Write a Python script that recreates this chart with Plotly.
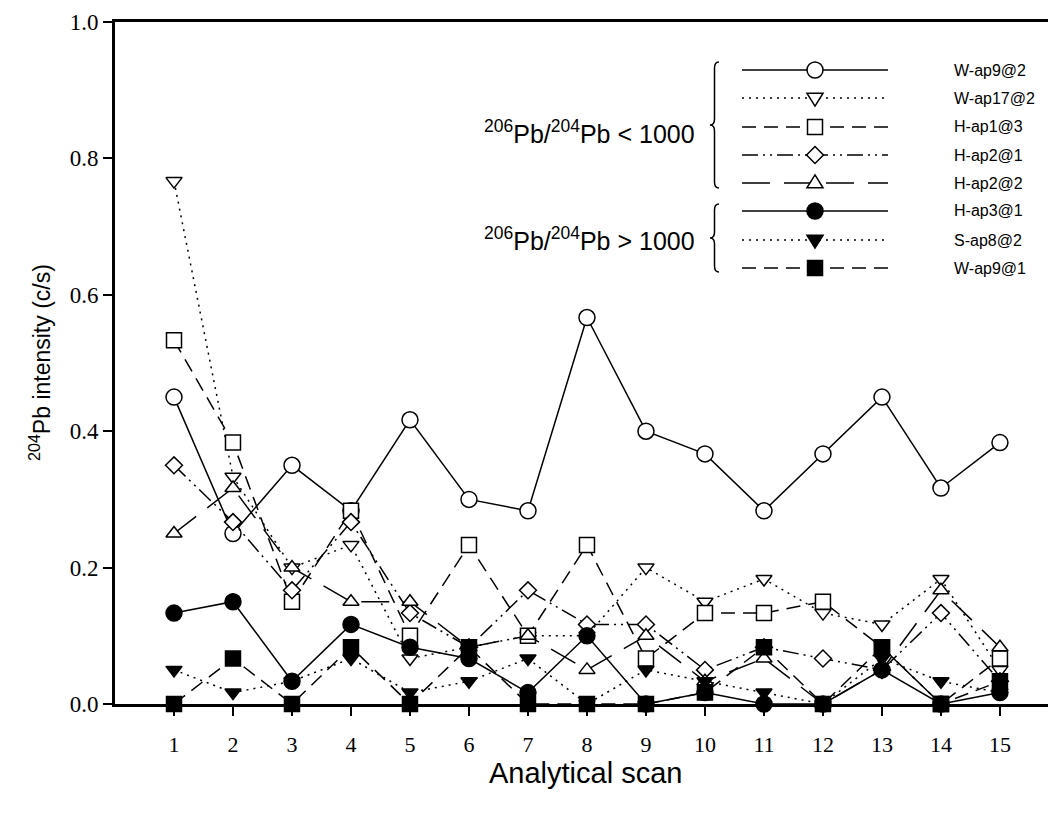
import plotly.graph_objects as go

# ---------------- data ----------------
scans = list(range(1, 16))

series_names = ["W-ap9@2", "W-ap17@2", "H-ap1@3", "H-ap2@1", "H-ap2@2",
                "H-ap3@1", "S-ap8@2", "W-ap9@1"]

w_ap9_2 = [0.45, 0.25, 0.35, 0.2833, 0.4167, 0.30, 0.2833, 0.5667, 0.40, 0.3667,
           0.2833, 0.3667, 0.45, 0.3167, 0.3833]
w_ap17_2 = [0.7667, 0.3333, 0.20, 0.2333, 0.0667, 0.0833, 0.10, 0.10, 0.20, 0.15,
            0.1833, 0.1333, 0.1167, 0.1833, 0.05]
h_ap1_3 = [0.5333, 0.3833, 0.15, 0.2833, 0.10, 0.2333, 0.10, 0.2333, 0.0667, 0.1333,
           0.1333, 0.15, 0.0833, 0.0, 0.0667]
h_ap2_1 = [0.35, 0.2667, 0.1667, 0.2667, 0.1333, 0.0833, 0.1667, 0.1167, 0.1167, 0.05,
           0.0833, 0.0667, 0.05, 0.1333, 0.0333]
h_ap2_2 = [0.25, 0.3167, 0.20, 0.15, 0.15, 0.0833, 0.10, 0.05, 0.10, 0.0333,
           0.0667, 0.0, 0.05, 0.1667, 0.0833]
h_ap3_1 = [0.1333, 0.15, 0.0333, 0.1167, 0.0833, 0.0667, 0.0167, 0.10, 0.0, 0.0167,
           0.0, 0.0, 0.05, 0.0, 0.0167]
s_ap8_2 = [0.05, 0.0167, 0.0333, 0.0667, 0.0167, 0.0333, 0.0667, 0.0, 0.05, 0.0333,
           0.0167, 0.0, 0.0667, 0.0333, 0.0167]
w_ap9_1 = [0.0, 0.0667, 0.0, 0.0833, 0.0, 0.0833, 0.0, 0.0, 0.0, 0.0167,
           0.0833, 0.0, 0.0833, 0.0, 0.0333]

series_values = [w_ap9_2, w_ap17_2, h_ap1_3, h_ap2_1, h_ap2_2, h_ap3_1, s_ap8_2, w_ap9_1]

y_tick_vals = [0.0, 0.2, 0.4, 0.6, 0.8, 1.0]
y_tick_text = ["0.0", "0.2", "0.4", "0.6", "0.8", "1.0"]

group_labels = ["<sup>206</sup>Pb/<sup>204</sup>Pb &lt; 1000",
                "<sup>206</sup>Pb/<sup>204</sup>Pb &gt; 1000"]

# ---------------- styles ----------------
styles = [
    dict(symbol="circle", fill="white", dash="solid", size=16),
    dict(symbol="triangle-down", fill="white", dash="2px,5px", size=14),
    dict(symbol="square", fill="white", dash="14px,8px", size=15),
    dict(symbol="diamond", fill="white", dash="16px,5px,2px,5px,2px,5px", size=13),
    dict(symbol="triangle-up", fill="white", dash="28px,14px", size=14),
    dict(symbol="circle", fill="black", dash="solid", size=16),
    dict(symbol="triangle-down", fill="black", dash="2px,5px", size=14),
    dict(symbol="square", fill="black", dash="14px,8px", size=15),
]

# page body has an 8px margin; compensate so the plot lands where the reference has it
W, H = 1048, 811
L, R, T, B = 107, 0, 14, 115
PW, PH = W - L - R, H - T - B
SANS = "Liberation Sans, Arial"
SERIF = "Liberation Serif, Times New Roman"

fig = go.Figure()
for name, vals, st in zip(series_names, series_values, styles):
    fig.add_trace(go.Scatter(
        x=scans, y=vals, name=name, mode="lines+markers",
        line=dict(color="black", width=1.5, dash=st["dash"]),
        marker=dict(symbol=st["symbol"], size=st["size"], color=st["fill"],
                    line=dict(color="black", width=1.5)),
        cliponaxis=False, showlegend=False,
    ))


# reference screen pixel -> paper coordinates
def px(x):
    return (x - 115) / PW


def py(y):
    return (704 - y) / PH


shapes = []
annotations = []

# ---------- manual legend ----------
row_y = [70, 98, 127, 155, 183, 211, 240, 268]
line_x0, line_x1, mark_x, text_x = 742, 888, 815, 952


def marker_path(sym, cx, cy, s):
    r = s / 2.0
    if sym == "square":
        pts = [(cx - r, cy - r), (cx + r, cy - r), (cx + r, cy + r), (cx - r, cy + r)]
    elif sym == "diamond":
        rd = r * 1.3
        pts = [(cx, cy - rd), (cx + rd, cy), (cx, cy + rd), (cx - rd, cy)]
    elif sym == "triangle-up":
        rt = r * 1.15
        pts = [(cx, cy - rt), (cx + rt, cy + rt * 0.6), (cx - rt, cy + rt * 0.6)]
    else:  # triangle-down
        rt = r * 1.15
        pts = [(cx, cy + rt), (cx + rt, cy - rt * 0.6), (cx - rt, cy - rt * 0.6)]
    return "M " + " L ".join(f"{px(a):.5f},{py(b):.5f}" for a, b in pts) + " Z"


for name, st, yy in zip(series_names, styles, row_y):
    shapes.append(dict(type="line", xref="paper", yref="paper",
                       x0=px(line_x0), x1=px(line_x1), y0=py(yy), y1=py(yy),
                       line=dict(color="black", width=1.5, dash=st["dash"])))
    if st["symbol"] == "circle":
        r = st["size"] / 2.0
        shapes.append(dict(type="circle", xref="paper", yref="paper",
                           x0=px(mark_x - r), x1=px(mark_x + r),
                           y0=py(yy + r), y1=py(yy - r),
                           fillcolor=st["fill"], line=dict(color="black", width=1.5)))
    else:
        shapes.append(dict(type="path", xref="paper", yref="paper",
                           path=marker_path(st["symbol"], mark_x, yy, st["size"]),
                           fillcolor=st["fill"], line=dict(color="black", width=1.5)))
    annotations.append(dict(x=px(text_x), y=py(yy), xref="paper", yref="paper",
                            text=name, showarrow=False, xanchor="left", yanchor="middle",
                            font=dict(family=SANS, size=16, color="black")))


def brace(x, y0, y1, w=9):
    ym = (y0 + y1) / 2.0
    c = 6
    xm = x + w / 2.0
    pts = (f"M {px(x + w):.5f},{py(y0):.5f} "
           f"Q {px(xm):.5f},{py(y0):.5f} {px(xm):.5f},{py(y0 + c):.5f} "
           f"L {px(xm):.5f},{py(ym - c):.5f} "
           f"Q {px(xm):.5f},{py(ym):.5f} {px(x):.5f},{py(ym):.5f} "
           f"Q {px(xm):.5f},{py(ym):.5f} {px(xm):.5f},{py(ym + c):.5f} "
           f"L {px(xm):.5f},{py(y1 - c):.5f} "
           f"Q {px(xm):.5f},{py(y1):.5f} {px(x + w):.5f},{py(y1):.5f}")
    return dict(type="path", xref="paper", yref="paper", path=pts,
                line=dict(color="black", width=1.5))


shapes.append(brace(710, 62, 188))
shapes.append(brace(710, 204, 272))

annotations.append(dict(x=px(697), y=py(132), xref="paper", yref="paper",
                        text=group_labels[0], showarrow=False, xanchor="right",
                        yanchor="middle", font=dict(family=SANS, size=25, color="black")))
annotations.append(dict(x=px(697), y=py(239), xref="paper", yref="paper",
                        text=group_labels[1], showarrow=False, xanchor="right",
                        yanchor="middle", font=dict(family=SANS, size=25, color="black")))

# axis titles
annotations.append(dict(x=px(40), y=0.5, xref="paper", yref="paper",
                        text="<sup>204</sup>Pb intensity (c/s)", textangle=-90,
                        showarrow=False, xanchor="center", yanchor="middle",
                        font=dict(family=SANS, size=23, color="black")))
annotations.append(dict(x=0.5, y=py(773), xref="paper", yref="paper",
                        text="Analytical scan", showarrow=False,
                        xanchor="center", yanchor="middle",
                        font=dict(family=SANS, size=29, color="black")))

fig.update_layout(
    width=W, height=H,
    margin=dict(l=L, r=R, t=T, b=B),
    plot_bgcolor="white", paper_bgcolor="white",
    shapes=shapes, annotations=annotations,
    showlegend=False,
    xaxis=dict(range=[0, 15.95], tickvals=scans, ticktext=[str(s) for s in scans],
               showgrid=False, zeroline=False, showline=True, linecolor="black",
               linewidth=3, mirror=True, ticks="outside", ticklen=9, tickwidth=1.5,
               tickcolor="black", ticklabelstandoff=10,
               tickfont=dict(family=SERIF, size=22, color="black")),
    yaxis=dict(range=[0, 1.0], tickvals=y_tick_vals, ticktext=y_tick_text,
               showgrid=False, zeroline=False, showline=True, linecolor="black",
               linewidth=3, ticks="outside", ticklen=9, tickwidth=1.5, tickcolor="black",
               tickfont=dict(family=SERIF, size=23, color="black")),
)

fig.write_html("out.html")
